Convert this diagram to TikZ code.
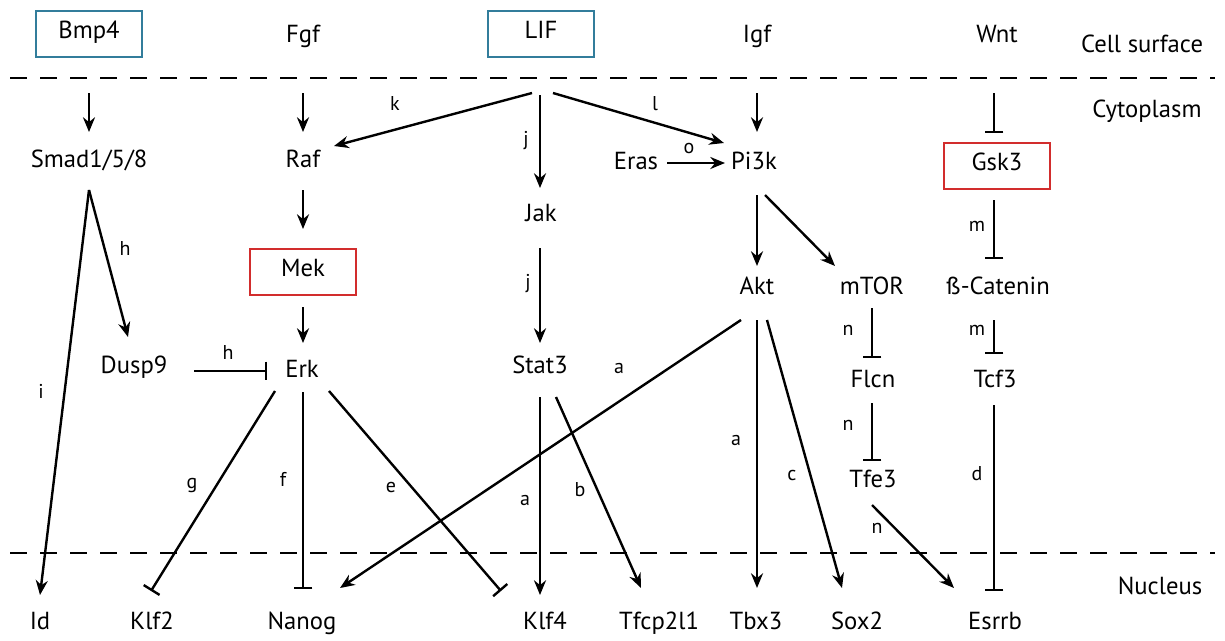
\documentclass[tikz,border=0pt]{standalone}
\usepackage{fontspec}
\setmainfont{PT Sans}
\usetikzlibrary{arrows.meta}
\definecolor{boxblue}{RGB}{50,125,155}
\definecolor{boxred}{RGB}{210,45,45}
\begin{document}
\begin{tikzpicture}[x=0.75pt,y=-0.75pt,
  gene/.style={font=\fontsize{18.5}{22}\selectfont, inner sep=0pt, text height=0.9em, text depth=0.2em},
  bluebox/.style={gene, draw=boxblue, line width=1.7pt, minimum width=79.5pt, minimum height=35pt},
  redbox/.style={gene, draw=boxred, line width=1.7pt, minimum width=80pt, minimum height=34.5pt},
  tag/.style={font=\fontsize{15}{17}\selectfont, inner sep=0pt, text height=0.72em, text depth=0.2em},
  act/.style={-{Stealth[length=11pt,width=9pt]}, line width=1.8pt},
  inh/.style={-{Bar[width=14pt,line width=1.8pt]}, line width=1.8pt},
  sep/.style={line width=2.2pt, dash pattern=on 13pt off 9.5pt}
]
\useasboundingbox (0,0) rectangle (1225,640);

% compartment borders
\draw[sep] (10,78) -- (1215,78);
\draw[sep] (10,553) -- (1215,553);

% compartment names
\node[gene] (cellsurf) at (1142,48) {Cell surface};
\node[gene] (cyto) at (1147,113) {Cytoplasm};
\node[gene] (nucleus) at (1160,590) {Nucleus};

% ligands at the cell surface
\node[bluebox] (bmp) at (89,34) {Bmp4};
\node[gene] (fgf) at (303,38) {Fgf};
\node[bluebox] (lif) at (541,34) {LIF};
\node[gene] (igf) at (757,38) {Igf};
\node[gene] (wnt) at (997,38) {Wnt};

% cytoplasmic factors
\node[gene] (smad) at (89,163) {Smad1/5/8};
\node[gene] (raf) at (303,163) {Raf};
\node[gene] (eras) at (636,165) {Eras};
\node[gene] (pi3k) at (754,165) {Pi3k};
\node[redbox, minimum width=79pt, minimum height=34pt] (gsk3) at (997,166) {Gsk3};
\node[gene] (jak) at (541,217) {Jak};
\node[redbox] (mek) at (303,272) {Mek};
\node[gene] (akt) at (757,290) {Akt};
\node[gene] (mtor) at (872,290) {mTOR};
\node[gene] (bcat) at (998,290) {ß-Catenin};
\node[gene] (dusp9) at (134,369) {Dusp9};
\node[gene] (erk) at (302,373) {Erk};
\node[gene] (stat3) at (540,369) {Stat3};
\node[gene] (flcn) at (873,383) {Flcn};
\node[gene] (tcf3) at (995,383) {Tcf3};
\node[gene] (tfe3) at (873,483) {Tfe3};

% nuclear targets
\node[gene] (id) at (40,625) {Id};
\node[gene] (klf2) at (152,625) {Klf2};
\node[gene] (nanog) at (302,625) {Nanog};
\node[gene] (klf4) at (545,625) {Klf4};
\node[gene] (tfcp) at (659,625) {Tfcp2l1};
\node[gene] (tbx3) at (756,625) {Tbx3};
\node[gene] (sox2) at (857,625) {Sox2};
\node[gene] (esrrb) at (995,625) {Esrrb};

% connectors
\draw[act] ([shift={(0,59)}]bmp.center) -- ([shift={(0,-31)}]smad.center);
\draw[act] ([shift={(0,55)}]fgf.center) -- ([shift={(0,-31)}]raf.center);
\draw[act] ([shift={(0,55)}]igf.center) -- ([shift={(3,-33)}]pi3k.center);
\draw[inh] ([shift={(-3,55)}]wnt.center) -- ([shift={(-3,-33)}]gsk3.center);
\draw[act] ([shift={(-9,59)}]lif.center) -- ([shift={(31,-17)}]raf.center);
\draw[act] ([shift={(-1,61)}]lif.center) -- ([shift={(-1,-29)}]jak.center);
\draw[act] ([shift={(12,59)}]lif.center) -- ([shift={(-30,-22)}]pi3k.center);
\draw[act] ([shift={(31,-2)}]eras.center) -- ([shift={(-29,-2)}]pi3k.center);
\draw[act] ([shift={(0,27)}]raf.center) -- ([shift={(0,-43)}]mek.center);
\draw[act] ([shift={(-1,31)}]jak.center) -- ([shift={(0,-26)}]stat3.center);
\draw[act] ([shift={(3,30)}]pi3k.center) -- ([shift={(0,-24)}]akt.center);
\draw[act] ([shift={(11,30)}]pi3k.center) -- ([shift={(-37,-24)}]mtor.center);
\draw[inh] ([shift={(-3,34)}]gsk3.center) -- ([shift={(-4,-31)}]bcat.center);
\draw[act] ([shift={(0,27)}]smad.center) -- ([shift={(-6,-32)}]dusp9.center);
\draw[act] ([shift={(0,27)}]smad.center) -- ([shift={(0,-30)}]id.center);
\draw[inh] ([shift={(60,2)}]dusp9.center) -- ([shift={(-35,-2)}]erk.center);
\draw[act] ([shift={(0,35)}]mek.center) -- ([shift={(1,-30)}]erk.center);
\draw[inh] ([shift={(-27,18)}]erk.center) -- ([shift={(-1,-34)}]klf2.center);
\draw[inh] ([shift={(1,19)}]erk.center) -- ([shift={(1,-36)}]nanog.center);
\draw[inh] ([shift={(27,18)}]erk.center) -- ([shift={(-44,-34)}]klf4.center);
\draw[act] ([shift={(0,28)}]stat3.center) -- ([shift={(-5,-30)}]klf4.center);
\draw[act] ([shift={(16,28)}]stat3.center) -- ([shift={(-18,-37)}]tfcp.center);
\draw[act] ([shift={(-16,30)}]akt.center) -- ([shift={(38,-37)}]nanog.center);
\draw[act] ([shift={(0,30)}]akt.center) -- ([shift={(1,-37)}]tbx3.center);
\draw[act] ([shift={(10,30)}]akt.center) -- ([shift={(-15,-37)}]sox2.center);
\draw[inh] ([shift={(0,18)}]mtor.center) -- ([shift={(-1,-25)}]flcn.center);
\draw[inh] ([shift={(-4,30)}]bcat.center) -- ([shift={(-1,-29)}]tcf3.center);
\draw[inh] ([shift={(-1,20)}]flcn.center) -- ([shift={(-1,-22)}]tfe3.center);
\draw[act] ([shift={(-1,22)}]tfe3.center) -- ([shift={(-41,-37)}]esrrb.center);
\draw[inh] ([shift={(-1,22)}]tcf3.center) -- ([shift={(-1,-34)}]esrrb.center);

% connector labels
\node[tag] (tk) at (395,107) {k};
\node[tag] (tj1) at (526,142) {j};
\node[tag] (tl) at (655,107) {l};
\node[tag] (to) at (689,150) {o};
\node[tag] (tj2) at (528,285) {j};
\node[tag] (th1) at (125,252) {h};
\node[tag] (th2) at (228,356) {h};
\node[tag] (ti) at (41,395) {i};
\node[tag] (ta1) at (619,370) {a};
\node[tag] (tm1) at (977,228) {m};
\node[tag] (tm2) at (977,332) {m};
\node[tag] (tn1) at (848,332) {n};
\node[tag] (tn2) at (848,427) {n};
\node[tag] (tg) at (192,485) {g};
\node[tag] (tf) at (283,483) {f};
\node[tag] (te) at (391,489) {e};
\node[tag] (ta2) at (525,502) {a};
\node[tag] (tb) at (580,493) {b};
\node[tag] (ta3) at (736,442) {a};
\node[tag] (tc) at (792,477) {c};
\node[tag] (td) at (977,477) {d};
\node[tag] (tn3) at (877,530) {n};
\end{tikzpicture}
\end{document}
